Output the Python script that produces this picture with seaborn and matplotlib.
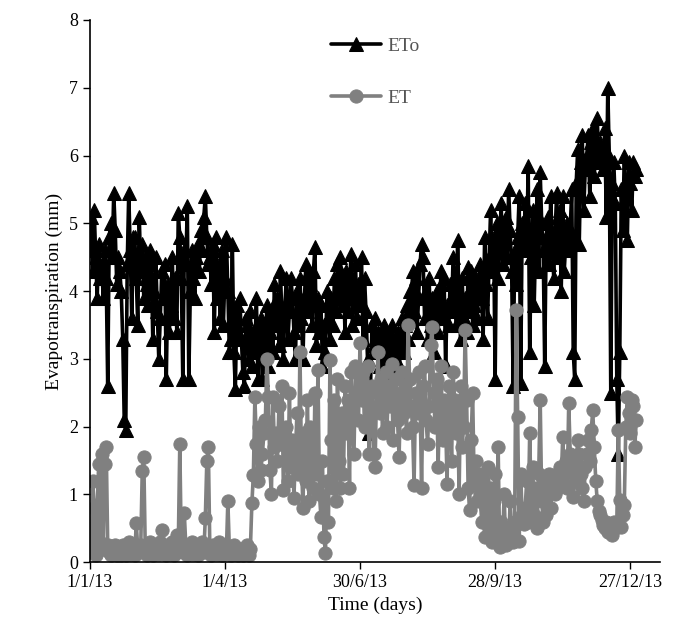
import numpy as np
import pandas as pd
import matplotlib
matplotlib.use("Agg")
import matplotlib.pyplot as plt
import seaborn as sns

eto = [
    4.6, 5.1, 4.3, 5.2, 4.5, 3.9, 4.7, 4.2, 4.4, 3.9,
    4.6, 4.2, 2.6, 4.8, 5.0, 4.5, 5.45, 4.9, 4.1, 4.5,
    4.3, 4.0, 3.3, 2.1, 1.95, 4.4, 5.45, 4.6, 3.6, 4.8,
    4.8, 4.2, 3.5, 5.1, 4.3, 4.7, 3.9, 4.5, 4.1, 3.8,
    4.6, 4.4, 3.3, 4.0, 4.5, 3.7, 3.0, 3.6, 4.3, 3.9,
    4.4, 2.7, 4.1, 3.4, 3.8, 4.5, 3.6, 4.2, 3.4, 5.15,
    4.8, 4.2, 2.7, 4.6, 4.4, 5.25, 2.7, 4.0, 4.6, 4.2,
    3.9, 4.5, 4.7, 4.3, 4.9, 4.6, 5.1, 5.4, 4.8, 4.4,
    4.5, 4.1, 4.7, 3.4, 4.8, 3.9, 4.4, 3.6, 4.6, 3.5,
    4.2, 4.8, 4.0, 3.1, 3.3, 4.7, 3.1, 2.55, 3.8, 3.4,
    3.9, 3.3, 2.8, 2.6, 3.6, 3.5, 3.0, 3.7, 2.9, 3.4,
    3.1, 3.9, 2.7, 3.3, 3.6, 2.7, 3.5, 3.2, 3.8, 2.9,
    3.4, 3.7, 3.1, 4.1, 3.5, 3.9, 3.2, 4.3, 3.6, 3.0,
    3.8, 4.2, 3.3, 3.7, 4.2, 3.9, 3.4, 3.0, 4.0, 3.5,
    4.2, 3.6, 3.0, 3.9, 4.4, 3.7, 4.3, 4.1, 3.5, 4.3,
    4.65, 3.2, 3.9, 3.4, 3.8, 2.9, 3.5, 3.1, 4.0, 3.6,
    3.3, 3.9, 3.5, 4.2, 3.7, 4.4, 3.9, 4.5, 3.8, 4.2,
    3.4, 4.3, 3.7, 4.0, 4.55, 3.5, 3.9, 4.4, 3.6, 4.1,
    3.8, 4.5, 3.3, 4.2, 3.7, 3.0, 1.9, 2.6, 3.5, 3.2,
    3.6, 3.1, 3.4, 2.9, 3.3, 3.0, 3.5, 2.8, 3.2, 3.4,
    3.1, 3.5, 2.9, 3.3, 3.0, 3.4, 2.8, 3.2, 3.6, 3.1,
    3.5, 3.8, 3.3, 4.0, 3.6, 4.3, 3.7, 4.2, 3.4, 3.9,
    4.4, 4.7, 4.5, 3.6, 4.0, 3.3, 4.2, 3.5, 3.9, 3.1,
    3.7, 4.0, 3.4, 3.8, 4.3, 3.6, 4.2, 2.9, 3.8, 3.5,
    4.1, 3.7, 4.5, 4.0, 3.5, 4.75, 3.8, 3.3, 4.2, 3.6,
    3.9, 3.4, 4.35, 3.7, 4.3, 3.5, 3.8, 4.2, 3.6, 4.0,
    4.4, 3.9, 3.3, 4.8, 4.1, 3.6, 4.5, 5.2, 4.3, 4.8,
    2.7, 5.0, 4.2, 4.7, 5.3, 4.4, 4.8, 5.1, 4.5, 5.5,
    4.9, 4.3, 2.6, 4.6, 4.1, 4.8, 5.4, 2.65, 5.0, 4.7,
    5.3, 4.6, 5.85, 3.1, 4.5, 5.2, 3.8, 4.8, 5.5, 4.3,
    5.75, 5.0, 4.6, 2.9, 4.8, 5.1, 4.4, 5.4, 4.7, 4.2,
    4.9, 5.45, 4.5, 5.2, 4.0, 5.4, 4.3, 4.7, 5.0, 4.6,
    4.9, 5.5, 3.1, 2.7, 5.6, 6.1, 4.7, 5.9, 6.3, 5.2,
    5.8, 6.0, 6.3, 5.4, 6.2, 6.4, 5.7, 6.1, 6.55, 5.9,
    6.2, 6.0, 5.8, 6.4, 5.1, 7.0, 6.0, 2.5, 5.6, 5.9,
    5.3, 2.7, 1.6, 3.1, 5.5, 4.9, 6.0, 5.4, 4.75, 5.9,
    5.6, 5.2, 5.9, 5.7, 5.8,
]

et = [
    0.3, 0.15, 1.2, 0.8, 0.1, 0.85, 1.45, 0.3, 1.6, 0.2,
    1.45, 1.7, 0.25, 0.15, 0.1, 0.2, 0.12, 0.25, 0.1, 0.15,
    0.2, 0.1, 0.25, 0.15, 0.1, 0.2, 0.3, 0.12, 0.2, 0.15,
    0.1, 0.58, 0.2, 0.15, 0.25, 1.35, 1.55, 0.2, 0.1, 0.15,
    0.3, 0.2, 0.1, 0.25, 0.15, 0.2, 0.12, 0.3, 0.47, 0.2,
    0.15, 0.1, 0.25, 0.2, 0.15, 0.3, 0.1, 0.2, 0.4, 0.25,
    1.75, 0.2, 0.15, 0.72, 0.25, 0.1, 0.2, 0.15, 0.3, 0.12,
    0.2, 0.25, 0.1, 0.15, 0.2, 0.3, 0.15, 0.65, 1.5, 1.7,
    0.2, 0.1, 0.25, 0.15, 0.2, 0.12, 0.3, 0.15, 0.1, 0.2,
    0.25, 0.15, 0.9, 0.2, 0.1, 0.15, 0.25, 0.12, 0.2, 0.1,
    0.15, 0.2, 0.1, 0.12, 0.15, 0.25, 0.1, 0.2, 0.87, 1.29,
    2.44, 1.75, 1.2, 2.0, 1.36, 1.6, 1.9, 2.1, 3.0, 2.44,
    1.36, 1.0, 2.44, 1.7, 1.9, 1.5, 2.3, 1.75, 2.6, 1.06,
    1.75, 2.0, 1.2, 2.5, 1.4, 1.8, 0.95, 1.6, 2.2, 1.3,
    3.1, 1.5, 0.8, 1.9, 1.2, 2.4, 0.9, 2.0, 1.7, 1.1,
    2.5, 1.3, 2.83, 1.0, 0.67, 1.5, 0.37, 0.14, 1.2, 0.6,
    2.98, 1.8, 1.1, 2.4, 0.9, 2.7, 1.5, 1.1, 2.2, 1.3,
    2.6, 1.9, 2.4, 1.1, 2.8, 2.2, 1.6, 2.9, 2.5, 2.1,
    3.23, 2.4, 2.8, 2.0, 2.5, 2.9, 1.6, 2.3, 2.6, 1.6,
    1.4, 2.5, 3.1, 2.2, 2.7, 1.9, 2.4, 2.8, 2.0, 2.6,
    2.3, 2.93, 1.8, 2.5, 2.7, 2.1, 1.55, 2.4, 2.8, 2.2,
    2.6, 1.9, 3.5, 2.7, 2.3, 2.0, 1.14, 2.5, 2.2, 2.8,
    2.4, 1.1, 2.6, 2.9, 2.1, 1.75, 2.3, 3.2, 3.47, 2.5,
    2.0, 2.7, 1.4, 2.3, 2.9, 1.8, 2.4, 2.1, 1.16, 2.6,
    2.2, 1.5, 2.8, 2.4, 1.9, 2.3, 1.0, 2.6, 1.7, 2.0,
    3.42, 2.4, 1.1, 0.77, 1.8, 2.5, 1.2, 1.5, 0.9, 1.3,
    1.0, 0.6, 1.2, 0.37, 0.8, 1.4, 0.5, 1.1, 0.3, 0.9,
    1.3, 0.4, 1.7, 0.22, 0.6, 0.35, 1.0, 0.25, 0.5, 0.3,
    0.9, 0.45, 0.3, 0.6, 3.72, 2.14, 0.32, 1.3, 0.7, 0.57,
    0.8, 1.2, 0.6, 1.9, 0.9, 1.4, 0.7, 1.1, 0.5, 1.3,
    2.4, 0.9, 0.6, 1.2, 0.7, 1.0, 1.3, 0.8, 1.1, 1.2,
    1.0, 1.3, 1.1, 1.4, 1.2, 1.85, 1.3, 1.5, 1.1, 2.35,
    1.6, 1.4, 0.96, 1.2, 1.5, 1.8, 1.6, 1.3, 1.1, 0.9,
    1.4, 1.6, 1.8, 1.5, 1.95, 2.24, 1.7, 1.2, 0.9, 0.75,
    0.7, 0.62, 0.55, 0.5, 0.6, 0.45, 0.5, 0.55, 0.4, 0.6,
    0.5, 0.55, 1.95, 0.92, 0.52, 0.7, 0.85, 2.0, 2.44, 2.2,
    1.9, 2.4, 2.3, 1.7, 2.1,
]

tick_days = [0, 90, 180, 270, 360]
tick_labels = ["1/1/13", "1/4/13", "30/6/13", "28/9/13", "27/12/13"]

days = np.arange(len(eto))
df = pd.DataFrame({"day": days, "ETo": eto, "ET": et})

sns.set_theme(style="white")
plt.rcParams["font.family"] = ["Liberation Serif", "DejaVu Serif"]

fig = plt.figure(figsize=(6.9, 6.44), dpi=100)
ax = fig.add_axes([0.13, 0.127, 0.827, 0.842])

sns.lineplot(data=df, x="day", y="ETo", ax=ax, color="black", marker="^",
             markersize=9.5, markeredgecolor="black", linewidth=2.6, label="ETo")
sns.lineplot(data=df, x="day", y="ET", ax=ax, color="#808080", marker="o",
             markersize=9.5, markeredgecolor="#808080", linewidth=2.6, label="ET")

ax.set_xlim(0, 380)
ax.set_ylim(0, 8)
ax.set_xticks(tick_days)
ax.set_xticklabels(tick_labels)
ax.set_yticks(range(0, 9))
ax.tick_params(axis="both", labelsize=13, direction="out", length=5, width=1,
               colors="black", bottom=True, left=True)
ax.set_xlabel("Time (days)", fontsize=14, color="black")
ax.set_ylabel("Evapotranspiration (mm)", fontsize=14, color="black")
for s in ["top", "right"]:
    ax.spines[s].set_visible(False)
for s in ["left", "bottom"]:
    ax.spines[s].set_color("black")
    ax.spines[s].set_linewidth(1.2)

leg = ax.legend(loc="upper center", bbox_to_anchor=(0.5, 1.0), frameon=False,
                fontsize=14, handlelength=2.6, labelspacing=1.75, handletextpad=0.3)
for t in leg.get_texts():
    t.set_color("#555555")

fig.savefig("out.png", dpi=100)
